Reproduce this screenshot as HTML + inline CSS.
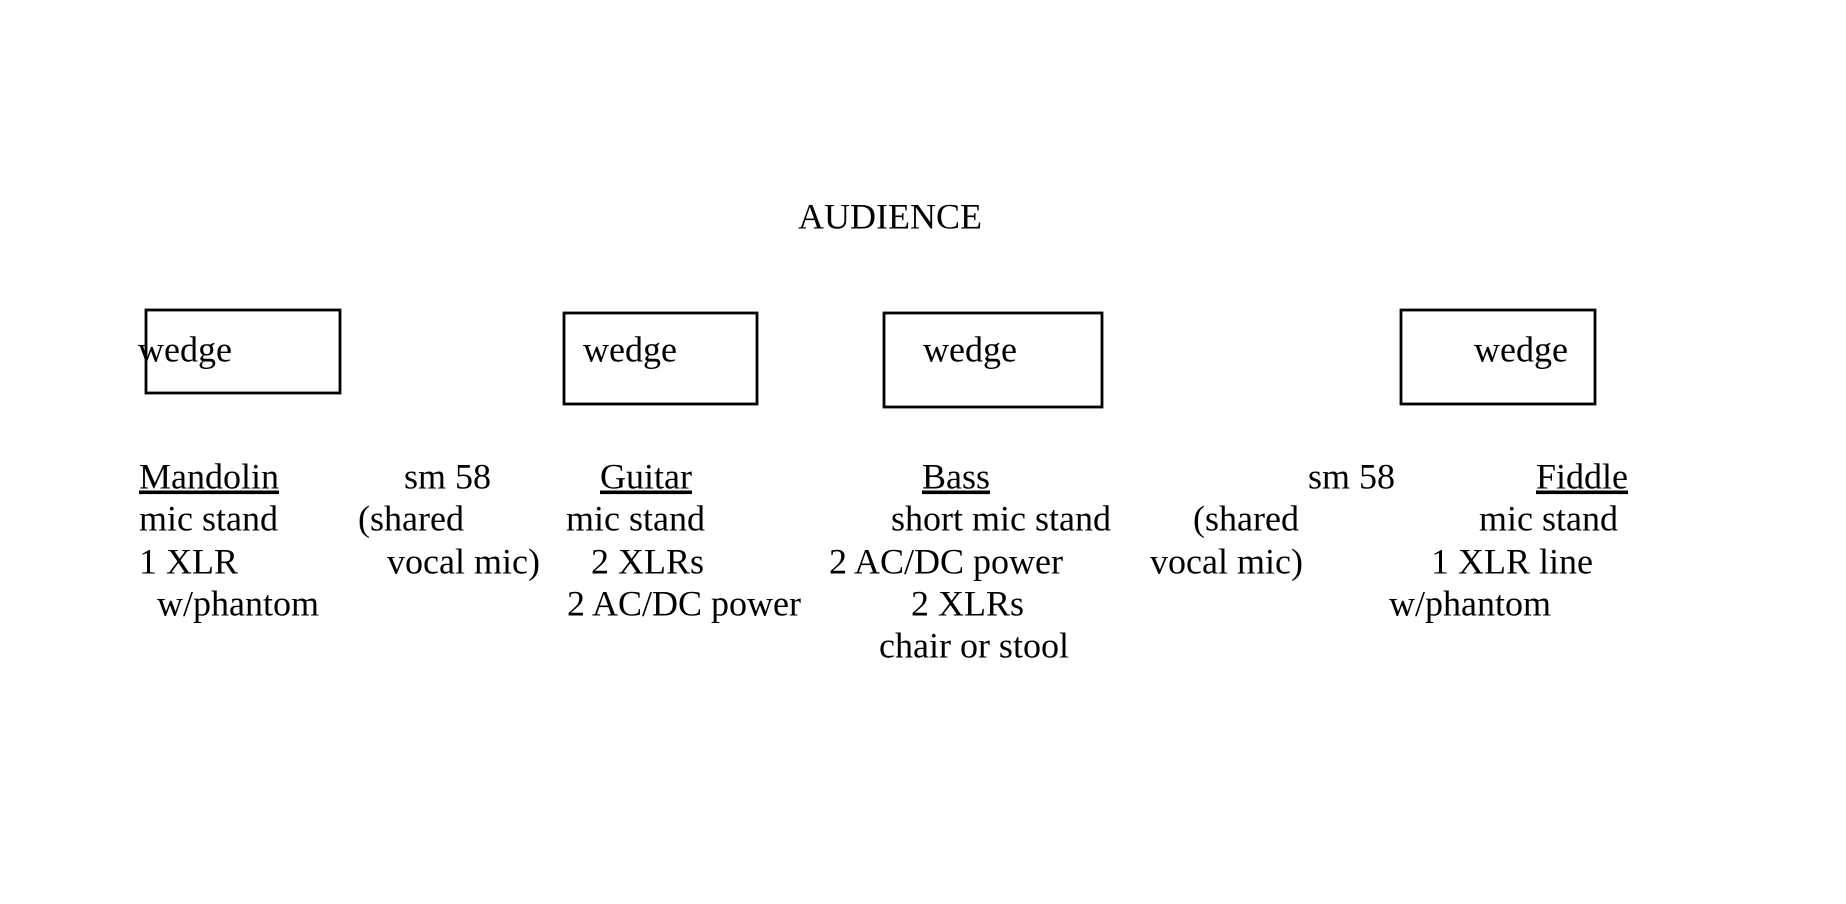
<!DOCTYPE html>
<html><head><meta charset="utf-8"><style>
html,body{margin:0;padding:0;background:#fff;}
svg{display:block;}
text{font-family:"Liberation Serif","Times New Roman",serif;font-size:36px;fill:#000;}
.u{text-decoration:underline;}
</style></head><body>
<svg width="1846" height="904" viewBox="0 0 1846 904" xmlns="http://www.w3.org/2000/svg">
<g fill="none" stroke="#000" stroke-width="2.8">
<rect x="146" y="310" width="194" height="83"/>
<rect x="564" y="313" width="193" height="91"/>
<rect x="884" y="313" width="218" height="94"/>
<rect x="1401" y="310" width="194" height="94"/>
</g>
<g transform="translate(0,1.5)">
<text x="798" y="227">AUDIENCE</text>
<text x="138" y="360">wedge</text>
<text x="583" y="360">wedge</text>
<text x="923" y="360">wedge</text>
<text x="1474" y="360">wedge</text>

<text x="139" y="487" class="u">Mandolin</text>
<text x="139" y="529">mic stand</text>
<text x="139" y="572">1 XLR</text>
<text x="157" y="614">w/phantom</text>

<text x="404" y="487">sm 58</text>
<text x="358" y="529">(shared</text>
<text x="387" y="572">vocal mic)</text>

<text x="600" y="487" class="u">Guitar</text>
<text x="566" y="529">mic stand</text>
<text x="591" y="572">2 XLRs</text>
<text x="567" y="614">2 AC/DC power</text>

<text x="922" y="487" class="u">Bass</text>
<text x="891" y="529">short mic stand</text>
<text x="829" y="572">2 AC/DC power</text>
<text x="911" y="614">2 XLRs</text>
<text x="879" y="656">chair or stool</text>

<text x="1308" y="487">sm 58</text>
<text x="1193" y="529">(shared</text>
<text x="1150" y="572">vocal mic)</text>

<text x="1536" y="487" class="u">Fiddle</text>
<text x="1479" y="529">mic stand</text>
<text x="1431" y="572">1 XLR line</text>
<text x="1389" y="614">w/phantom</text>
</g>
</svg>
</body></html>
